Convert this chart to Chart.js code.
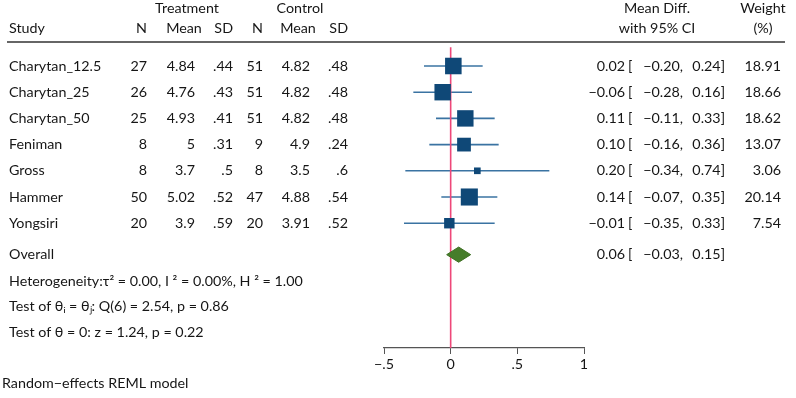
<!DOCTYPE html>
<html>
<head>
<meta charset="utf-8">
<script src="https://cdn.jsdelivr.net/npm/chart.js@4.4.1/dist/chart.umd.min.js"></script>
<style>
  html, body { margin: 0; padding: 0; background: #fff; }
  canvas { display: block; }
</style>
</head>
<body>
<canvas id="forest" width="796" height="398"></canvas>
<script>
// data
const studies = ["Charytan_12.5", "Charytan_25", "Charytan_50", "Feniman", "Gross", "Hammer", "Yongsiri"];
const nTreat  = ["27", "26", "25", "8", "8", "50", "20"];
const meanTreat = ["4.84", "4.76", "4.93", "5", "3.7", "5.02", "3.9"];
const sdTreat = [".44", ".43", ".41", ".31", ".5", ".52", ".59"];
const nCtrl   = ["51", "51", "51", "9", "8", "47", "20"];
const meanCtrl = ["4.82", "4.82", "4.82", "4.9", "3.5", "4.88", "3.91"];
const sdCtrl  = [".48", ".48", ".48", ".24", ".6", ".54", ".52"];
const meanDiff = [0.02, -0.06, 0.11, 0.10, 0.20, 0.14, -0.01];
const ciLow   = [-0.20, -0.28, -0.11, -0.16, -0.34, -0.07, -0.35];
const ciHigh  = [0.24, 0.16, 0.33, 0.36, 0.74, 0.35, 0.33];
const weights = [18.91, 18.66, 18.62, 13.07, 3.06, 20.14, 7.54];
const overall = { est: 0.06, lo: -0.03, hi: 0.15 };
const xTicks = [-0.5, 0, 0.5, 1];

const FAMILY = 'Lato, "Open Sans", sans-serif';
const FONT = '14.3px ' + FAMILY;
const OVERALL_ROW = 7.2;

const fmt = (v) => (v < 0 ? "\u2212" : "") + Math.abs(v).toFixed(2);
const tickFmt = (v) => {
  let s = String(Math.abs(v)).replace(/^0\./, ".");
  return (v < 0 ? "\u2212" : "") + s;
};

const ciSets = studies.map((s, i) => ({
  label: s + " CI",
  data: [{ x: ciLow[i], y: i }, { x: ciHigh[i], y: i }],
  showLine: true, pointRadius: 0, borderColor: "#3a73a2", borderWidth: 1.6, order: 4
}));

const textPlugin = {
  id: "forestText",
  afterDraw(chart) {
    const ctx = chart.ctx, y = chart.scales.y;
    ctx.save();
    ctx.font = FONT;
    ctx.fillStyle = "#161616";
    ctx.textBaseline = "middle";
    const put = (t, x, row, align) => {
      ctx.textAlign = align || "left";
      ctx.fillText(t, x, y.getPixelForValue(row));
    };
    // headers
    put("Treatment", 187, -2.2, "center");
    put("Control", 300, -2.2, "center");
    put("Mean Diff.", 657, -2.2, "center");
    put("Weight", 763, -2.2, "center");
    put("Study", 9, -1.42);
    put("N", 147, -1.42, "right");
    put("Mean", 184, -1.42, "center");
    put("SD", 233, -1.42, "right");
    put("N", 263, -1.42, "right");
    put("Mean", 298, -1.42, "center");
    put("SD", 348, -1.42, "right");
    put("with 95% CI", 657, -1.42, "center");
    put("(%)", 763, -1.42, "center");
    // header rule
    ctx.strokeStyle = "#333";
    ctx.lineWidth = 1.5;
    ctx.beginPath();
    ctx.moveTo(7, chart.chartArea.top);
    ctx.lineTo(785, chart.chartArea.top);
    ctx.stroke();
    // study rows
    studies.forEach((s, i) => {
      put(s, 9, i);
      put(nTreat[i], 147, i, "right");
      put(meanTreat[i], 195, i, "right");
      put(sdTreat[i], 233, i, "right");
      put(nCtrl[i], 263, i, "right");
      put(meanCtrl[i], 310, i, "right");
      put(sdCtrl[i], 348, i, "right");
      put(fmt(meanDiff[i]), 625, i, "right");
      put("[", 628, i);
      put(fmt(ciLow[i]) + ",", 683, i, "right");
      put(fmt(ciHigh[i]) + "]", 725, i, "right");
      put(weights[i].toFixed(2), 781, i, "right");
    });
    put("Overall", 9, OVERALL_ROW);
    put(fmt(overall.est), 625, OVERALL_ROW, "right");
    put("[", 628, OVERALL_ROW);
    put(fmt(overall.lo) + ",", 683, OVERALL_ROW, "right");
    put(fmt(overall.hi) + "]", 725, OVERALL_ROW, "right");
    put("Heterogeneity:\u03c4\u00b2 = 0.00, I \u00b2 = 0.00%, H \u00b2 = 1.00", 9, 8.22);
    put("Test of \u03b8\u1d62 = \u03b8\u2c7c: Q(6) = 2.54, p = 0.86", 9, 9.18);
    put("Test of \u03b8 = 0: z = 1.24, p = 0.22", 9, 10.15);
    put("Random\u2212effects REML model", 2, 12.1);
    ctx.restore();
  }
};

new Chart(document.getElementById("forest"), {
  type: "scatter",
  data: {
    datasets: [
      {
        label: "Overall",
        data: [
          { x: overall.lo, y: OVERALL_ROW },
          { x: overall.est, y: OVERALL_ROW - 0.29 },
          { x: overall.hi, y: OVERALL_ROW },
          { x: overall.est, y: OVERALL_ROW + 0.29 },
          { x: overall.lo, y: OVERALL_ROW }
        ],
        showLine: true, fill: "shape", pointRadius: 0,
        borderColor: "#3d6f22", borderWidth: 1, backgroundColor: "#467d2a", order: 0
      },
      {
        label: "Studies",
        data: studies.map((s, i) => ({ x: meanDiff[i], y: i })),
        pointStyle: "rect",
        pointRadius: weights.map(w => 2.69 * Math.sqrt(w)),
        backgroundColor: "#0f4877", borderColor: "#0f4877", borderWidth: 0, order: 1
      },
      {
        label: "No effect",
        data: [{ x: 0, y: -0.72 }, { x: 0, y: 10.77 }],
        showLine: true, pointRadius: 0, borderColor: "#ee4779", borderWidth: 1.6, order: 2
      },
      ...ciSets
    ]
  },
  options: {
    responsive: false,
    animation: false,
    devicePixelRatio: 1,
    layout: { padding: { left: 384, right: 212, top: 42, bottom: 20 } },
    plugins: { legend: { display: false }, tooltip: { enabled: false } },
    scales: {
      x: {
        type: "linear", position: "bottom", min: -0.5, max: 1,
        afterBuildTicks: (s) => { s.ticks = xTicks.map(v => ({ value: v })); },
        grid: { drawOnChartArea: false, drawTicks: true, tickLength: 6, color: "#555" },
        border: { display: true, color: "#555", width: 1.2 },
        ticks: { padding: 2, color: "#161616", font: { family: FAMILY, size: 14.3 }, callback: tickFmt, maxRotation: 0 },
        afterFit: (s) => { s.height = 30; }
      },
      y: { type: "linear", display: false, reverse: true, min: -0.916, max: 10.763 }
    }
  },
  plugins: [textPlugin]
});
</script>
</body>
</html>
